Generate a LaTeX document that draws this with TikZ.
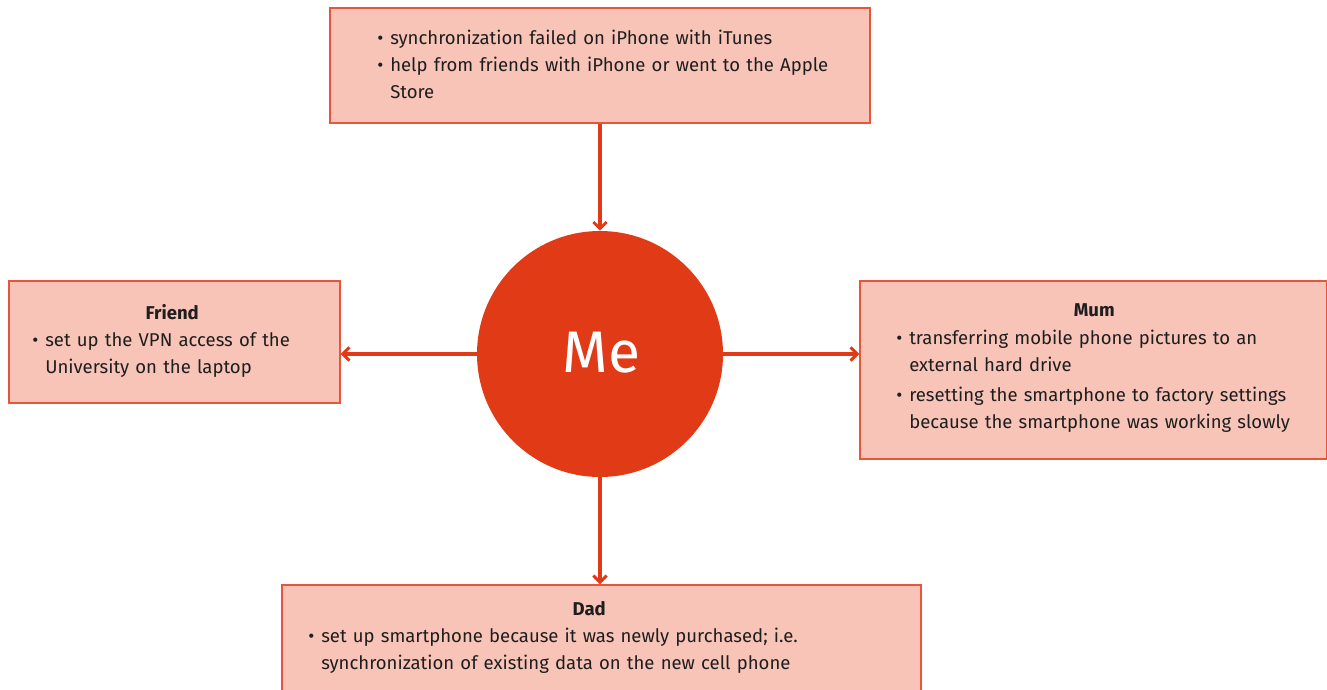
\documentclass[tikz,border=0pt]{standalone}
\usepackage{fontspec}
\setmainfont{Fira Sans}
\usetikzlibrary{arrows.meta}
\definecolor{boxfill}{HTML}{F8C4B8}
\definecolor{boxline}{HTML}{E8553A}
\definecolor{mered}{HTML}{E03A16}
\definecolor{txtcol}{HTML}{1E1E1E}
\newcommand\bulf[1]{\hangindent=9.75pt\hangafter=1\makebox[9.75pt][l]{\textbullet}#1}
\newcommand\bul[1]{\par\noindent\bulf{#1}}
\newcommand\ttl[1]{{\centering\bfseries #1\par}}
\begin{document}
\begin{tikzpicture}[x=0.75pt,y=-0.75pt,
 box/.style={draw=boxline, line width=1.1pt, fill=boxfill, inner sep=0pt, rectangle},
 txtnode/.style={inner sep=0pt, anchor=base west, text=txtcol, font=\fontsize{13.9pt}{20.25pt}\selectfont, align=left},
 conn/.style={draw=mered, line width=2.3pt, -{Straight Barb[length=5pt,width=10pt,line width=2.2pt]}}]
\useasboundingbox (0,0) rectangle (1327,689);
\node[box, minimum width=405pt, minimum height=86.25pt] (top) at (600,65.5) {};
\node[box, minimum width=248.25pt, minimum height=91.5pt] (friend) at (174.5,342) {};
\node[box, minimum width=350.25pt, minimum height=133.5pt] (mum) at (1093.5,370) {};
\node[box, minimum width=479.25pt, minimum height=93.75pt] (dad) at (601.5,647.5) {};
\node[circle, fill=mered, minimum size=184.5pt, inner sep=0pt] (me) at (600,354) {};
\node[text=white, font=\fontsize{44pt}{44pt}\selectfont, inner sep=0pt, anchor=base] (metext) at (601.5,372) {Me};

\node[txtnode, text width=375pt] (toptext) at (377,44.5)
 {\bulf{synchronization failed on iPhone with iTunes}\bul{help from friends with iPhone or went to the Apple\newline Store}\par};
\node[txtnode, text width=210pt] (friendtext) at (32,319)
 {\ttl{Friend}\bul{set up the VPN access of the\newline University on the laptop}\par};
\node[txtnode, text width=297pt] (mumtext) at (896,316)
 {\ttl{Mum}\vspace{1.2pt}\bul{transferring mobile phone pictures to an\newline external hard drive}\par\vspace{2.2pt}\bul{resetting the smartphone to factory settings\newline because the smartphone was working slowly}\par};
\node[txtnode, text width=421.5pt] (dadtext) at (308,615)
 {\ttl{Dad}\bul{set up smartphone because it was newly purchased; i.e.\newline synchronization of existing data on the new cell phone}\par};

\draw[conn] (top.south) -- (me.north);
\draw[conn] (me.west) -- (me.west -| friend.east);
\draw[conn] (me.east) -- (me.east -| mum.west);
\draw[conn] (me.south) -- (me.south |- dad.north);
\end{tikzpicture}
\end{document}
